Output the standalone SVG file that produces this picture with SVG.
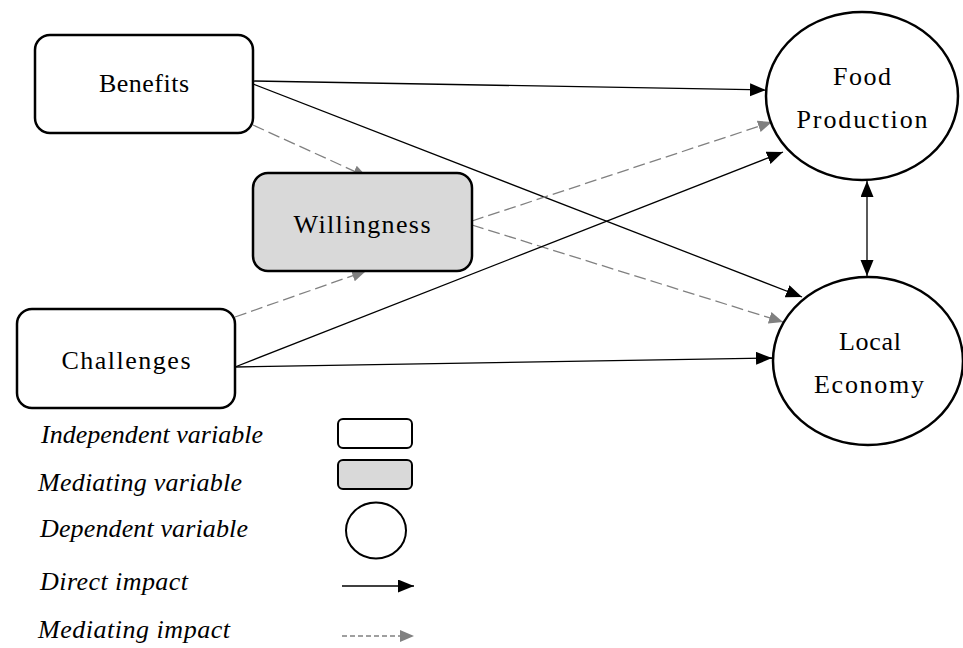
<svg xmlns="http://www.w3.org/2000/svg" width="963" height="648" viewBox="0 0 963 648">
<style>
.box{fill:#fff;stroke:#000;stroke-width:2.5}
.med{fill:#d9d9d9;stroke:#000;stroke-width:2.5}
.circ{fill:#fff;stroke:#000;stroke-width:2.5}
.lbl{font-family:"Liberation Serif","DejaVu Serif",serif;font-size:26px;fill:#000;text-anchor:middle}
.leg{font-family:"Liberation Serif","DejaVu Serif",serif;font-size:26px;font-style:italic;fill:#000}
.solid{stroke:#000;stroke-width:1.3;fill:none;marker-end:url(#ab)}
.dash{stroke:#808080;stroke-width:1.3;fill:none;stroke-dasharray:12 5;marker-end:url(#ag)}
</style>
<defs>
<marker id="ab" markerUnits="userSpaceOnUse" markerWidth="17" markerHeight="14" refX="16" refY="6.5" orient="auto-start-reverse"><path d="M0,0 L16,6.5 L0,13 z" fill="#000"/></marker>
<marker id="ag" markerUnits="userSpaceOnUse" markerWidth="15" markerHeight="13" refX="14" refY="6" orient="auto"><path d="M0,0 L14,6 L0,12 z" fill="#808080"/></marker>
</defs>
<rect width="963" height="648" fill="#fff"/>
<g id="connectors">
<line class="solid" x1="253" y1="81" x2="766" y2="90"/>
<line class="solid" x1="253" y1="84" x2="802" y2="297"/>
<line class="dash" x1="253" y1="125" x2="367" y2="177"/>
<line class="dash" x1="235" y1="317" x2="366" y2="271"/>
<line class="dash" x1="472" y1="221" x2="772" y2="122"/>
<line class="dash" x1="472" y1="225" x2="783" y2="322"/>
<line class="solid" x1="235" y1="367" x2="783" y2="152"/>
<line class="solid" x1="235" y1="367" x2="772" y2="358"/>
<line class="solid" x1="867" y1="181" x2="867" y2="276" style="marker-start:url(#ab)"/>
</g>
<g id="benefits">
<rect class="box" x="35" y="35" width="218" height="98" rx="15"/>
<text class="lbl" x="144" y="92" textLength="90">Benefits</text>
</g>
<g id="willingness">
<rect class="med" x="253" y="173" width="219" height="98" rx="15"/>
<text class="lbl" x="362" y="233" textLength="137">Willingness</text>
</g>
<g id="challenges">
<rect class="box" x="17" y="309" width="218" height="99" rx="15"/>
<text class="lbl" x="126" y="369" textLength="129">Challenges</text>
</g>
<g id="food-production">
<ellipse class="circ" cx="862" cy="96" rx="96" ry="84"/>
<text class="lbl" x="862" y="85" textLength="58">Food</text>
<text class="lbl" x="862" y="128" textLength="131">Production</text>
</g>
<g id="local-economy">
<ellipse class="circ" cx="868" cy="361" rx="95" ry="84"/>
<text class="lbl" x="870" y="350" textLength="62">Local</text>
<text class="lbl" x="869" y="393" textLength="110">Economy</text>
</g>
<g id="legend">
<text class="leg" x="41" y="443" textLength="222">Independent variable</text>
<rect class="box" x="338" y="419" width="74" height="29" rx="5" style="stroke-width:2"/>
<text class="leg" x="38" y="491" textLength="204">Mediating variable</text>
<rect class="med" x="338" y="460" width="74" height="29" rx="5" style="stroke-width:2"/>
<text class="leg" x="40" y="537" textLength="208">Dependent variable</text>
<ellipse class="circ" cx="376" cy="530.5" rx="30" ry="28" style="stroke-width:2"/>
<text class="leg" x="40" y="590" textLength="148">Direct impact</text>
<line class="solid" x1="342" y1="586" x2="414" y2="586"/>
<text class="leg" x="38" y="638" textLength="192">Mediating impact</text>
<line class="dash" x1="342" y1="636" x2="414" y2="636" style="stroke-dasharray:5 3"/>
</g>
</svg>
